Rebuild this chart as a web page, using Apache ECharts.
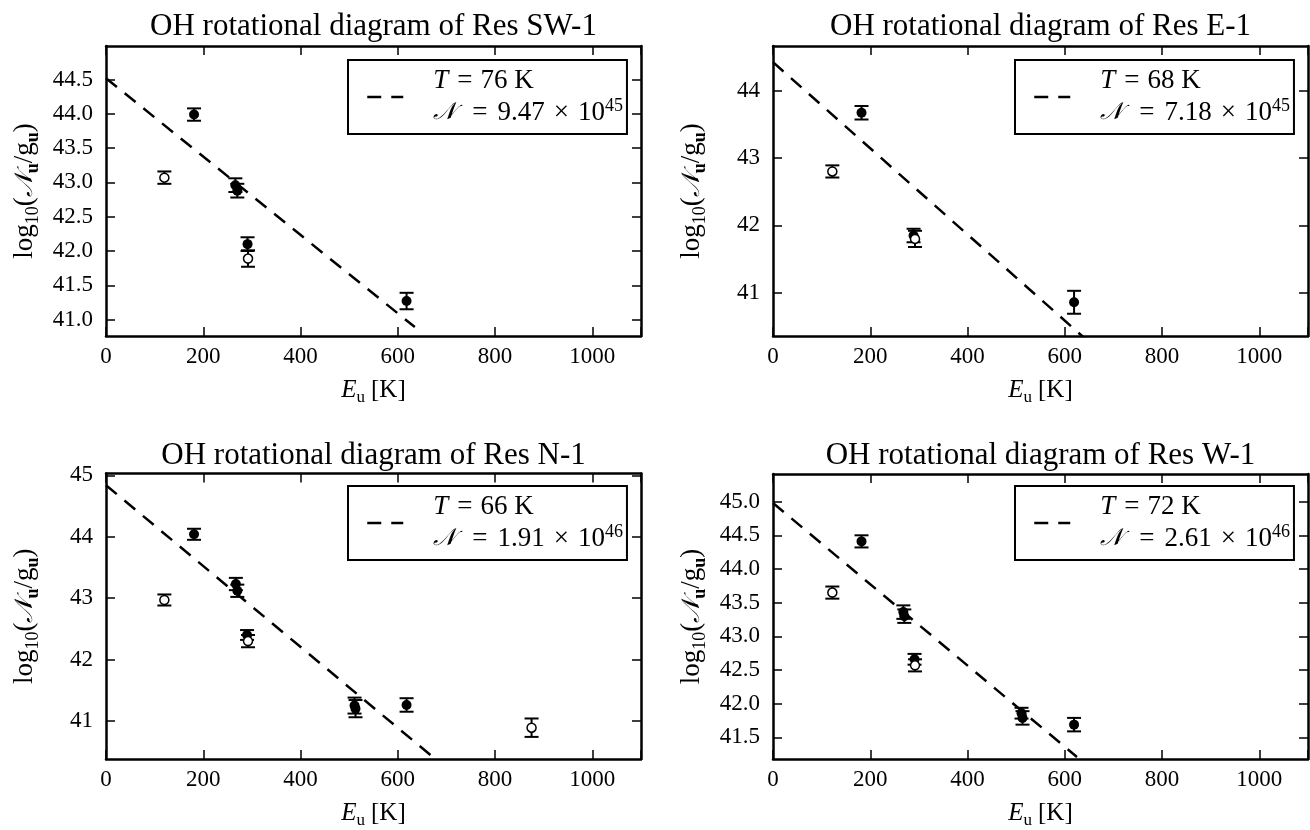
<!DOCTYPE html>
<html><head><meta charset="utf-8">
<script src="https://cdn.jsdelivr.net/npm/echarts@6/dist/echarts.min.js"></script>
<style>html,body{margin:0;padding:0;background:#fff}#c{width:1310px;height:830px}</style>
</head><body><div id="c"></div><script>
// ---------- data ----------
const panelTitles = ['OH rotational diagram of Res SW-1','OH rotational diagram of Res E-1','OH rotational diagram of Res N-1','OH rotational diagram of Res W-1'];
const xTicks = [0, 200, 400, 600, 800, 1000];
const yTicks1 = [41.0, 41.5, 42.0, 42.5, 43.0, 43.5, 44.0, 44.5];
const yTicks2 = [41, 42, 43, 44];
const yTicks3 = [41, 42, 43, 44, 45];
const yTicks4 = [41.5, 42.0, 42.5, 43.0, 43.5, 44.0, 44.5, 45.0];

const fitT = [76, 68, 66, 72];
const fitNMant = ['9.47', '7.18', '1.91', '2.61'];
const fitNExp = ['45', '45', '46', '46'];

// Res SW-1
const swFitE = [0, 635];
const swFitY = [44.52, 40.89];
const swFilledE = [181, 266, 270, 291, 618];
const swFilledY = [43.99, 42.96, 42.88, 42.10, 41.27];
const swFilledErr = [0.09, 0.10, 0.10, 0.10, 0.12];
const swOpenE = [120, 292];
const swOpenY = [43.07, 41.89];
const swOpenErr = [0.09, 0.12];

// Res E-1
const eFitE = [0, 645];
const eFitY = [44.42, 40.30];
const eFilledE = [182, 289, 619];
const eFilledY = [43.67, 41.85, 40.86];
const eFilledErr = [0.10, 0.10, 0.17];
const eOpenE = [122, 292];
const eOpenY = [42.80, 41.80];
const eOpenErr = [0.09, 0.12];

// Res N-1
const nFitE = [0, 680];
const nFitY = [44.84, 40.36];
const nFilledE = [181, 267, 270, 290, 511, 513, 618];
const nFilledY = [44.04, 43.23, 43.12, 42.40, 41.25, 41.20, 41.26];
const nFilledErr = [0.09, 0.10, 0.10, 0.08, 0.13, 0.14, 0.11];
const nOpenE = [120, 292, 875];
const nOpenY = [42.97, 42.30, 40.89];
const nOpenErr = [0.09, 0.10, 0.15];

// Res W-1
const wFitE = [0, 625];
const wFitY = [44.98, 41.21];
const wFilledE = [182, 268, 270, 291, 511, 513, 619];
const wFilledY = [44.41, 43.36, 43.30, 42.66, 41.86, 41.79, 41.69];
const wFilledErr = [0.09, 0.10, 0.10, 0.08, 0.08, 0.10, 0.10];
const wOpenE = [122, 292];
const wOpenY = [43.65, 42.57];
const wOpenErr = [0.09, 0.09];

// ---------- layout ----------
const FONT = '"Liberation Serif","Times New Roman",serif';
const SCRIPT_FONT = '"DejaVu Serif","DejaVu Sans",serif';
const grids = [
  {left: 106, top: 46, width: 535, height: 290},
  {left: 773, top: 46, width: 535, height: 290},
  {left: 106, top: 473.5, width: 535, height: 289},
  {left: 773, top: 474, width: 535, height: 289}
];
const yRanges = [[40.76, 44.99], [40.36, 44.66], [40.38, 45.03], [41.18, 45.41]];
const yTickSets = [yTicks1, yTicks2, yTicks3, yTicks4];
const yDecimals = [1, 0, 0, 1];
const legendPos = [[348, 60], [1015, 60], [348, 486], [1015, 486]];
const titleTops = [11, 11, 440, 440];

const panels = [
  {fitE: swFitE, fitY: swFitY, fE: swFilledE, fY: swFilledY, fErr: swFilledErr, oE: swOpenE, oY: swOpenY, oErr: swOpenErr},
  {fitE: eFitE, fitY: eFitY, fE: eFilledE, fY: eFilledY, fErr: eFilledErr, oE: eOpenE, oY: eOpenY, oErr: eOpenErr},
  {fitE: nFitE, fitY: nFitY, fE: nFilledE, fY: nFilledY, fErr: nFilledErr, oE: nOpenE, oY: nOpenY, oErr: nOpenErr},
  {fitE: wFitE, fitY: wFitY, fE: wFilledE, fY: wFilledY, fErr: wFilledErr, oE: wOpenE, oY: wOpenY, oErr: wOpenErr}
];

const lineStyleAxis = {color: '#000', width: 2.5};
const tickStyle = {color: '#000', width: 1.5};
const TICK_LEN = 9;

const xAxes = [], yAxes = [], series = [], legends = [], titles = [];
const nameRich = {
  a: {fontFamily: FONT, fontSize: 27, color: '#000', lineHeight: 34, verticalAlign: 'middle'},
  n: {fontFamily: SCRIPT_FONT, fontStyle: 'italic', fontSize: 25, color: '#000', lineHeight: 34, verticalAlign: 'middle'},
  s: {fontFamily: FONT, fontSize: 18, color: '#000', lineHeight: 18, verticalAlign: 'bottom'},
  sb: {fontFamily: FONT, fontSize: 18, fontWeight: 'bold', color: '#000', lineHeight: 18, verticalAlign: 'bottom'},
  e: {fontFamily: FONT, fontStyle: 'italic', fontSize: 25, color: '#000', lineHeight: 32, verticalAlign: 'middle'},
  x: {fontFamily: FONT, fontSize: 25, color: '#000', lineHeight: 32, verticalAlign: 'middle', padding: [0, 0, 0, 6]},
  xs: {fontFamily: FONT, fontSize: 17, color: '#000', lineHeight: 17, verticalAlign: 'bottom'}
};

function errorBars(p, E, Y, Err, name) {
  return {
    type: 'custom', name: name, xAxisIndex: 2 * p, yAxisIndex: 2 * p, z: 3, silent: true,
    data: E.map((e, i) => [e, Y[i], Err[i]]),
    renderItem(params, api) {
      const x = api.value(0), y = api.value(1), d = api.value(2);
      const a = api.coord([x, y + d]), b = api.coord([x, y - d]);
      const st = {stroke: '#000', lineWidth: 2};
      return {type: 'group', children: [
        {type: 'line', shape: {x1: a[0], y1: a[1], x2: b[0], y2: b[1]}, style: st},
        {type: 'line', shape: {x1: a[0] - 7, y1: a[1], x2: a[0] + 7, y2: a[1]}, style: st},
        {type: 'line', shape: {x1: b[0] - 7, y1: b[1], x2: b[0] + 7, y2: b[1]}, style: st}
      ]};
    }
  };
}

panels.forEach((P, p) => {
  const g = grids[p];
  titles.push({
    text: panelTitles[p], left: g.left + g.width / 2, top: titleTops[p], textAlign: 'center', padding: 0,
    textStyle: {fontFamily: FONT, fontSize: 31, fontWeight: 'normal', color: '#000'}
  });
  // bottom x
  xAxes.push({
    type: 'value', gridIndex: p, position: 'bottom', min: 0, max: 1100, interval: 200,
    name: '{e|E}{xs|u}{x|[K]}', nameLocation: 'middle', nameGap: 38,
    nameTextStyle: {rich: nameRich},
    axisLine: {show: true, onZero: false, lineStyle: lineStyleAxis},
    axisTick: {show: true, inside: true, length: TICK_LEN, lineStyle: tickStyle},
    axisLabel: {show: true, margin: 9, fontFamily: FONT, fontSize: 23, color: '#000', customValues: xTicks,
      formatter: v => String(Math.round(v))},
    splitLine: {show: false}
  });
  // top mirror x
  xAxes.push({
    type: 'value', gridIndex: p, position: 'top', min: 0, max: 1100, interval: 200,
    axisLine: {show: true, onZero: false, lineStyle: lineStyleAxis},
    axisTick: {show: true, inside: true, length: TICK_LEN, lineStyle: tickStyle},
    axisLabel: {show: false},
    splitLine: {show: false}
  });
  const yt = yTickSets[p];
  const dec = yDecimals[p];
  yAxes.push({
    type: 'value', gridIndex: p, position: 'left', min: yRanges[p][0], max: yRanges[p][1],
    name: '{a|log}{s|10}{a|(}{n|𝒩}{sb|u}{a|/g}{sb|u}{a|)}', nameLocation: 'middle', nameGap: 64, nameRotate: 90,
    nameTextStyle: {rich: nameRich},
    axisLine: {show: true, onZero: false, lineStyle: lineStyleAxis},
    axisTick: {show: true, inside: true, length: TICK_LEN, lineStyle: tickStyle, customValues: yt},
    axisLabel: {show: true, margin: 13, fontFamily: FONT, fontSize: 23, color: '#000', customValues: yt,
      formatter: v => Number(v).toFixed(dec)},
    splitLine: {show: false}
  });
  yAxes.push({
    type: 'value', gridIndex: p, position: 'right', min: yRanges[p][0], max: yRanges[p][1],
    axisLine: {show: true, onZero: false, lineStyle: lineStyleAxis},
    axisTick: {show: true, inside: true, length: TICK_LEN, lineStyle: tickStyle, customValues: yt},
    axisLabel: {show: false, customValues: yt},
    splitLine: {show: false}
  });
  const fitName = 'fit' + p;
  series.push({
    type: 'line', name: fitName, xAxisIndex: 2 * p, yAxisIndex: 2 * p, clip: true, z: 2,
    data: P.fitE.map((e, i) => [e, P.fitY[i]]), symbol: 'none', silent: true,
    itemStyle: {color: '#000'},
    lineStyle: {color: '#000', width: 2.5, type: [14, 10]}
  });
  series.push(errorBars(p, P.fE, P.fY, P.fErr, 'errF' + p));
  series.push(errorBars(p, P.oE, P.oY, P.oErr, 'errO' + p));
  series.push({
    type: 'scatter', name: 'filled' + p, xAxisIndex: 2 * p, yAxisIndex: 2 * p, z: 5, silent: true,
    data: P.fE.map((e, i) => [e, P.fY[i]]), symbol: 'circle', symbolSize: 10,
    itemStyle: {color: '#000', opacity: 1}
  });
  series.push({
    type: 'scatter', name: 'open' + p, xAxisIndex: 2 * p, yAxisIndex: 2 * p, z: 6, silent: true,
    data: P.oE.map((e, i) => [e, P.oY[i]]), symbol: 'circle', symbolSize: 9,
    itemStyle: {color: '#fff', borderColor: '#000', borderWidth: 1.5, opacity: 1}
  });
  legends.push({
    data: [fitName], left: legendPos[p][0], top: legendPos[p][1], orient: 'vertical',
    selectedMode: false, padding: [5, 4, 5, 18], borderColor: '#000', borderWidth: 2, borderRadius: 0,
    backgroundColor: '#fff', itemWidth: 36, itemHeight: 12,
    itemStyle: {opacity: 0},
    lineStyle: {color: '#000', width: 2.5, type: [14, 10], opacity: 1},
    formatter: () => '{g|}{t|T}{q|=}' + fitT[p] + ' K\n{g|}{n|𝒩}{a|=}' + fitNMant[p] + '{m|×}10{sup|' + fitNExp[p] + '}',
    textStyle: {fontFamily: FONT, fontSize: 27, color: '#000', lineHeight: 32,
      rich: {
        g: {width: 25, lineHeight: 32},
        q: {fontFamily: FONT, fontSize: 27, lineHeight: 32, padding: [0, 8, 0, 9]},
        a: {fontFamily: FONT, fontSize: 27, lineHeight: 32, padding: [0, 10, 0, 16]},
        m: {fontFamily: FONT, fontSize: 27, lineHeight: 32, padding: [0, 9, 0, 9]},
        t: {fontFamily: FONT, fontStyle: 'italic', fontSize: 27, lineHeight: 32},
        n: {fontFamily: SCRIPT_FONT, fontStyle: 'italic', fontSize: 24, lineHeight: 32},
        sup: {fontFamily: FONT, fontSize: 18, lineHeight: 14, verticalAlign: 'top'}
      }}
  });
});

const chart = echarts.init(document.getElementById('c'), null, {renderer: 'canvas'});
chart.setOption({
  animation: false,
  backgroundColor: '#fff',
  title: titles,
  legend: legends,
  grid: grids.map(g => Object.assign({containLabel: false}, g)),
  xAxis: xAxes,
  yAxis: yAxes,
  series: series
});
</script></body></html>
